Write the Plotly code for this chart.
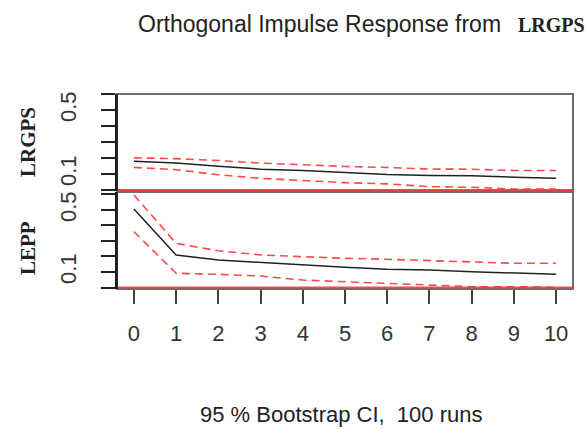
import plotly.graph_objects as go

horizon = list(range(11))

# Response of LRGPS to LRGPS shock
lrgps_irf = [0.179, 0.168, 0.149, 0.130, 0.122, 0.110, 0.097, 0.091, 0.089, 0.080, 0.074]
lrgps_upper = [0.201, 0.196, 0.184, 0.168, 0.158, 0.147, 0.141, 0.131, 0.130, 0.122, 0.122]
lrgps_lower = [0.141, 0.127, 0.095, 0.073, 0.059, 0.046, 0.038, 0.021, 0.017, 0.006, 0.006]

# Response of LEPP to LRGPS shock
lepp_irf = [0.506, 0.210, 0.177, 0.160, 0.145, 0.130, 0.117, 0.113, 0.102, 0.092, 0.085]
lepp_upper = [0.597, 0.285, 0.237, 0.210, 0.199, 0.188, 0.182, 0.173, 0.165, 0.156, 0.156]
lepp_lower = [0.360, 0.092, 0.085, 0.074, 0.048, 0.037, 0.027, 0.016, 0.005, 0.005, 0.001]

ytick_vals = [0.0, 0.1, 0.2, 0.3, 0.4, 0.5, 0.6]
ytick_text = ["", "0.1", "", "", "", "0.5", ""]
xtick_vals = list(range(11))

W, H = 587, 429
L, R, T, B = 117, 14, 94, 140
plot_h = H - T - B

RED = "rgba(255,40,40,0.85)"
BLACK = "#222222"
FRAME = "#6e6e6e"

fig = go.Figure()

def add_panel(irf, up, lo, xa, ya):
    fig.add_trace(go.Scatter(x=horizon, y=up, mode="lines", xaxis=xa, yaxis=ya,
                             line=dict(color=RED, width=1.6, dash="8px,5px"), showlegend=False))
    fig.add_trace(go.Scatter(x=horizon, y=lo, mode="lines", xaxis=xa, yaxis=ya,
                             line=dict(color=RED, width=1.6, dash="8px,5px"), showlegend=False))
    fig.add_trace(go.Scatter(x=horizon, y=irf, mode="lines", xaxis=xa, yaxis=ya,
                             line=dict(color=BLACK, width=1.5), showlegend=False))

add_panel(lrgps_irf, lrgps_upper, lrgps_lower, "x2", "y2")
add_panel(lepp_irf, lepp_upper, lepp_lower, "x", "y")

top_dom = [(289 - 191) / plot_h, 1.0]
bot_dom = [0.0, (289 - 192) / plot_h]

font_ticks = dict(family="Liberation Sans, Arial, sans-serif", size=22, color="#333333")

yax_common = dict(tickmode="array", tickvals=ytick_vals, ticktext=ytick_text,
                  ticks="outside", ticklen=14, tickwidth=1.5, tickcolor="#222222",
                  tickangle=-90, tickfont=font_ticks, showgrid=False, zeroline=False,
                  showline=True, linecolor="#111111", linewidth=1.5, ticklabelstandoff=16)

fig.update_layout(
    width=W, height=H,
    margin=dict(l=L, r=R, t=T, b=B),
    paper_bgcolor="white", plot_bgcolor="white",
    xaxis=dict(domain=[0, 1], range=[-0.4, 10.4], anchor="y", tickmode="array",
               tickvals=xtick_vals, ticks="outside", ticklen=14, tickwidth=1.5,
               tickcolor="#444444", tickfont=font_ticks, showgrid=False, zeroline=False,
               showline=False, ticklabelstandoff=11),
    xaxis2=dict(domain=[0, 1], range=[-0.4, 10.4], anchor="y2", showticklabels=False,
                ticks="", showgrid=False, zeroline=False, showline=False, matches="x"),
    yaxis=dict(domain=bot_dom, range=[-0.0097, 0.616], anchor="x", **yax_common),
    yaxis2=dict(domain=top_dom, range=[-0.00625, 0.600], anchor="x2", **yax_common),
)

# frames (gray box), then zero lines in red
for xa, ya in (("x", "y"), ("x2", "y2")):
    fig.add_shape(type="rect", xref=f"{xa} domain", yref=f"{ya} domain", x0=0, x1=1, y0=0, y1=1,
                  line=dict(color=FRAME, width=2), layer="above")
    fig.add_shape(type="line", xref=f"{xa} domain", yref=ya, x0=0, x1=1, y0=0, y1=0,
                  line=dict(color="rgba(230,60,60,0.9)", width=2), layer="above")
    fig.add_shape(type="line", xref=f"{xa} domain", yref=f"{ya} domain", x0=0, x1=0, y0=0, y1=1,
                  line=dict(color="#111111", width=1.5), layer="above")

def px_to_paper_x(px):
    return (px - L) / (W - L - R)

def px_to_paper_y(py):
    return (H - B - py) / plot_h

anns = [
    dict(text="Orthogonal Impulse Response from", x=px_to_paper_x(503), y=px_to_paper_y(24),
         xanchor="right", yanchor="middle",
         font=dict(family="Liberation Sans, Arial, sans-serif", size=23, color="#222222")),
    dict(text="<b>LRGPS</b>", x=px_to_paper_x(516), y=px_to_paper_y(25),
         xanchor="left", yanchor="middle",
         font=dict(family="Liberation Serif, Times New Roman, serif", size=20, color="#222222")),
    dict(text="<b>LRGPS</b>", x=px_to_paper_x(28), y=px_to_paper_y(142), textangle=-90,
         xanchor="center", yanchor="middle",
         font=dict(family="Liberation Serif, Times New Roman, serif", size=21, color="#222222")),
    dict(text="<b>LEPP</b>", x=px_to_paper_x(28), y=px_to_paper_y(248), textangle=-90,
         xanchor="center", yanchor="middle",
         font=dict(family="Liberation Serif, Times New Roman, serif", size=21, color="#222222")),
    dict(text="95 % Bootstrap CI,  100 runs", x=px_to_paper_x(341), y=px_to_paper_y(414),
         xanchor="center", yanchor="middle",
         font=dict(family="Liberation Sans, Arial, sans-serif", size=22, color="#222222")),
]
for a in anns:
    a.update(xref="paper", yref="paper", showarrow=False)
fig.update_layout(annotations=anns)

fig.write_html("out.html")
